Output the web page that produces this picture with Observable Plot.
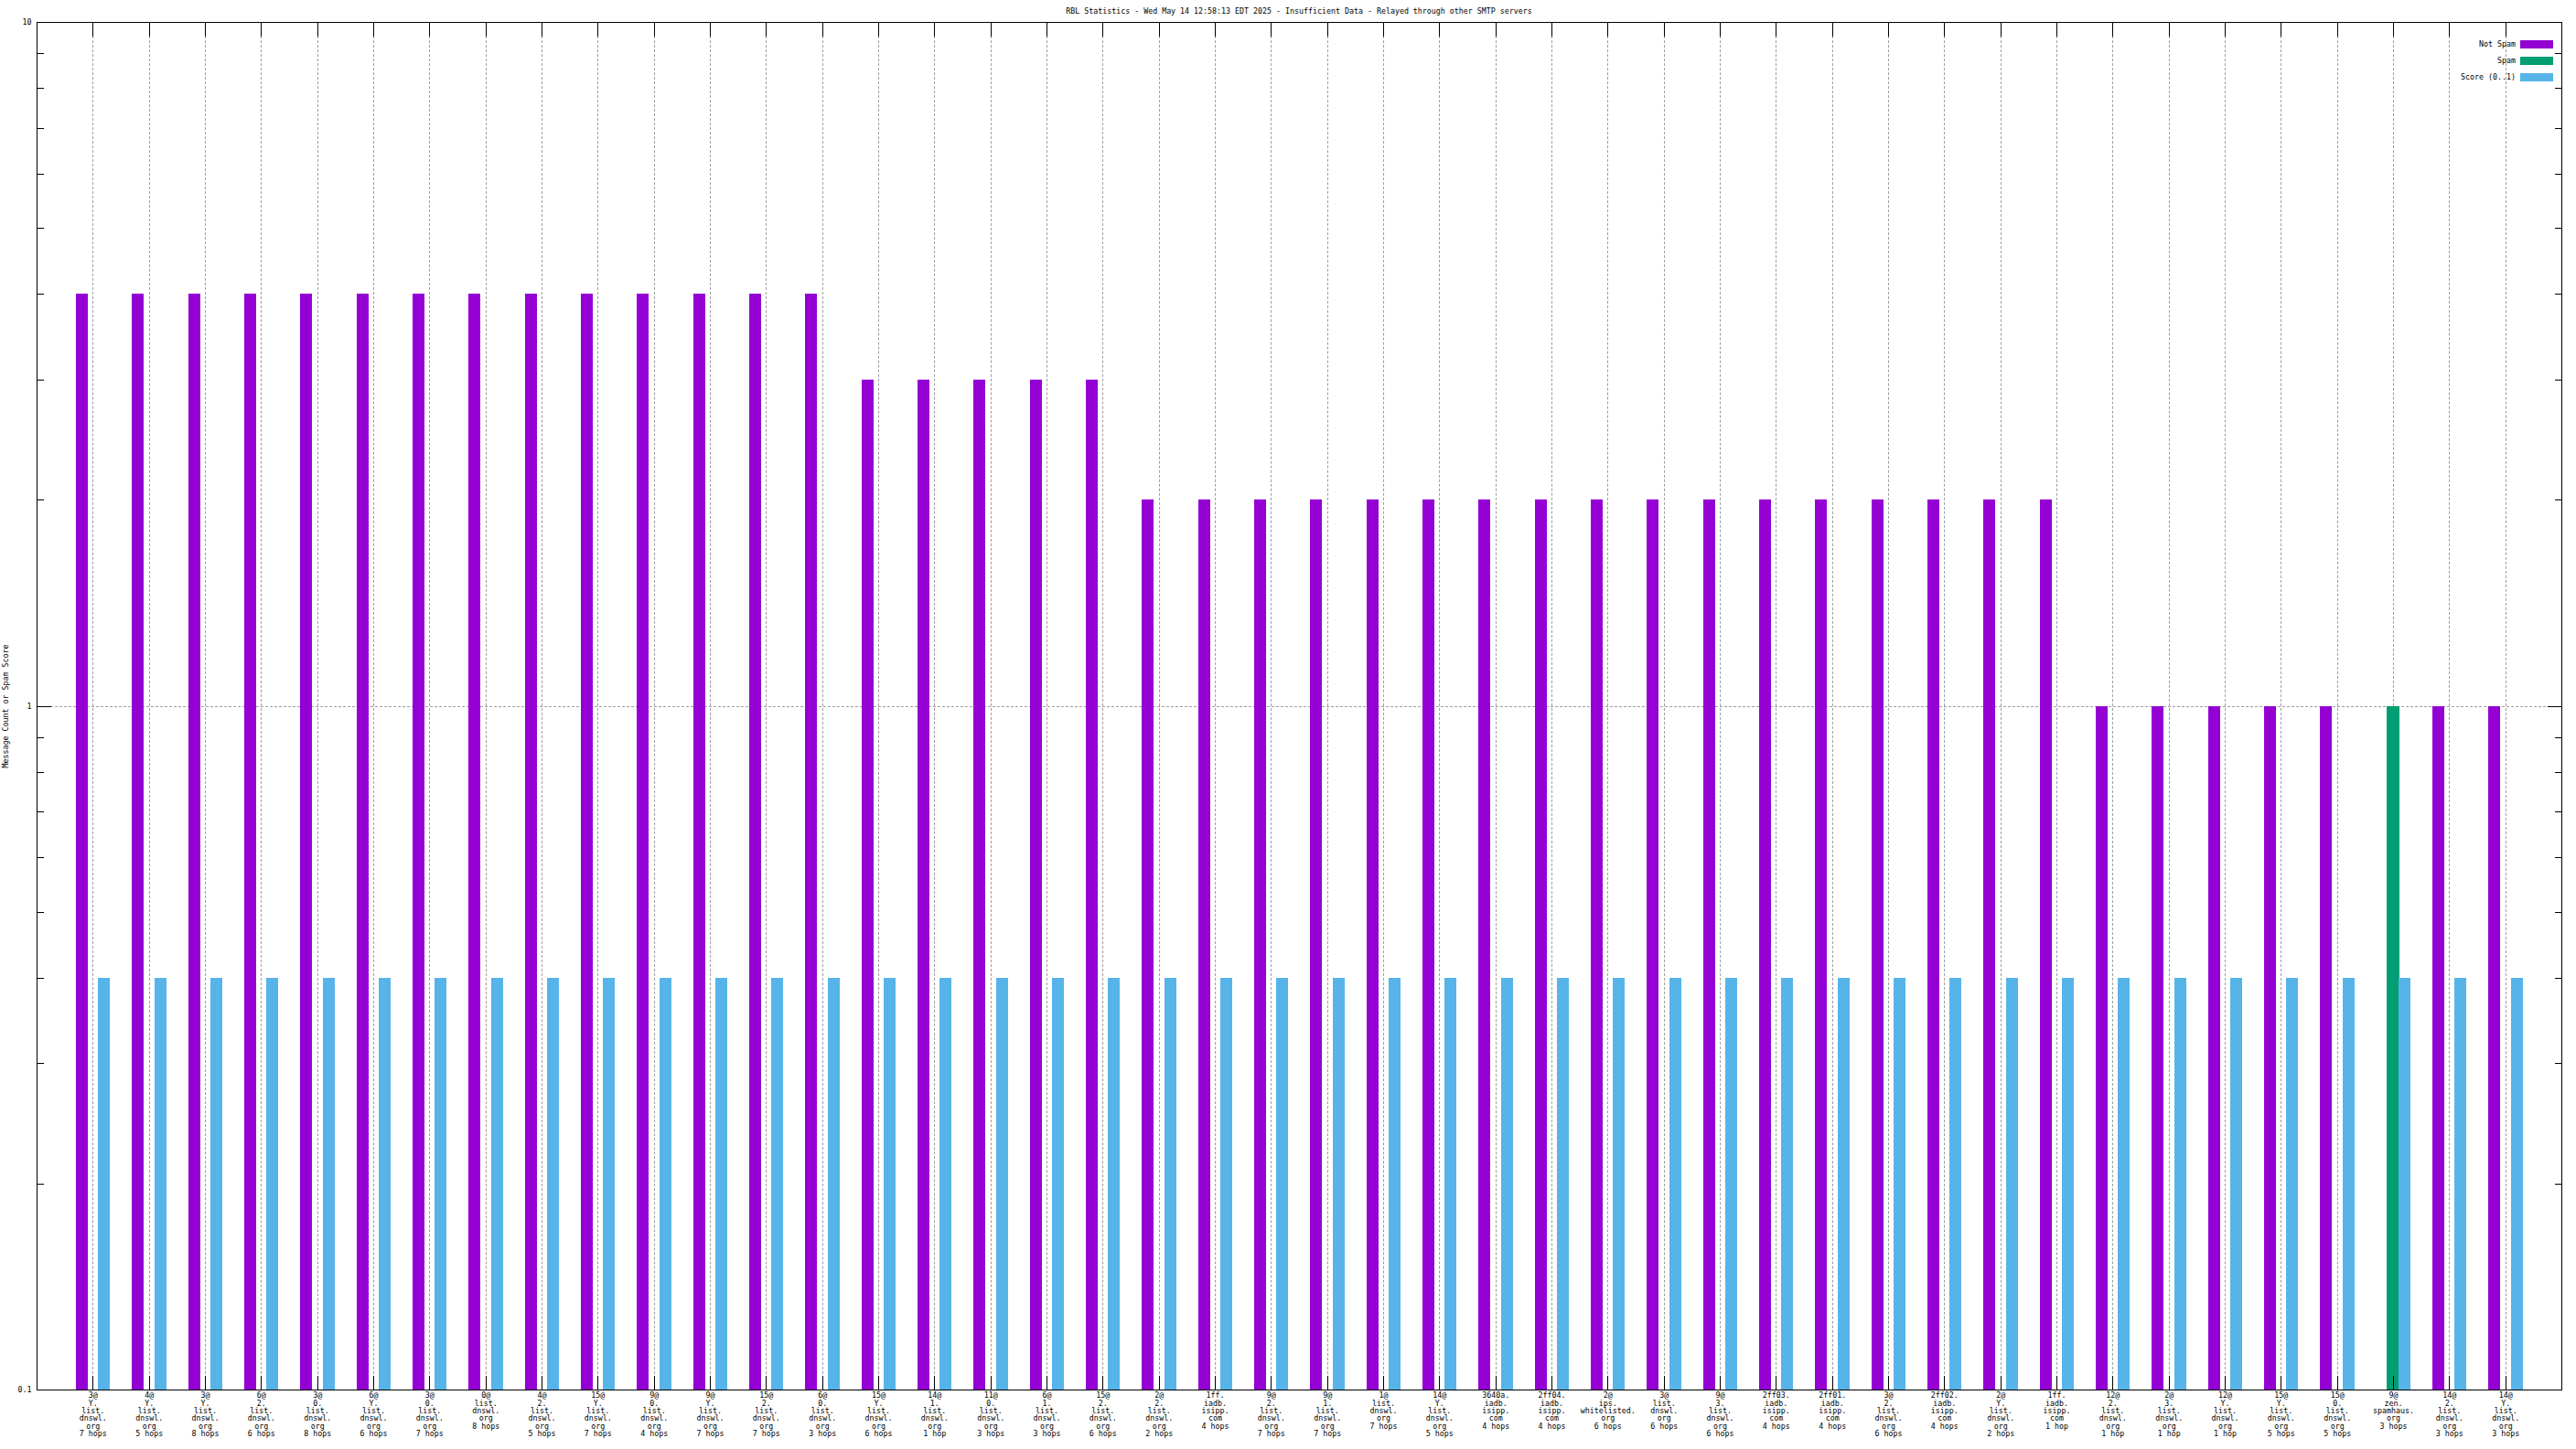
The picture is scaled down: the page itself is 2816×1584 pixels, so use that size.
<!DOCTYPE html>
<html><head><meta charset="utf-8">
<script src="https://cdn.jsdelivr.net/npm/d3@7"></script>
<script src="https://cdn.jsdelivr.net/npm/@observablehq/plot@0.6"></script>
<style>
html,body{margin:0;padding:0;background:#fff;overflow:hidden;}
#wrap{position:relative;width:2816px;height:1584px;font-family:"DejaVu Sans Mono",monospace;font-size:8.3px;color:#000;}
#title{position:absolute;left:40px;width:2760px;top:8px;text-align:center;line-height:9px;white-space:pre;}
.lg-text{position:absolute;right:66px;line-height:9px;white-space:pre;text-align:right;}
.lg-sw{position:absolute;left:2755px;width:36px;height:9px;}
svg{display:block;}
svg line, svg path, svg rect{shape-rendering:crispEdges;}
</style>
</head><body>
<div id="wrap"></div>
<script>
const titleText = "RBL Statistics - Wed May 14 12:58:13 EDT 2025 - Insufficient Data - Relayed through other SMTP servers";
const yTitle = "Message Count or Spam Score";
const seriesNames = ["Not Spam", "Spam", "Score (0..1)"];
const seriesColors = ["#9400d3", "#009e73", "#56b4e9"];
const categories = [
  "3@\nY.\nlist.\ndnswl.\norg\n7 hops",
  "4@\nY.\nlist.\ndnswl.\norg\n5 hops",
  "3@\nY.\nlist.\ndnswl.\norg\n8 hops",
  "6@\n2.\nlist.\ndnswl.\norg\n6 hops",
  "3@\n0.\nlist.\ndnswl.\norg\n8 hops",
  "6@\nY.\nlist.\ndnswl.\norg\n6 hops",
  "3@\n0.\nlist.\ndnswl.\norg\n7 hops",
  "0@\nlist.\ndnswl.\norg\n8 hops",
  "4@\n2.\nlist.\ndnswl.\norg\n5 hops",
  "15@\nY.\nlist.\ndnswl.\norg\n7 hops",
  "9@\n0.\nlist.\ndnswl.\norg\n4 hops",
  "9@\nY.\nlist.\ndnswl.\norg\n7 hops",
  "15@\n2.\nlist.\ndnswl.\norg\n7 hops",
  "6@\n0.\nlist.\ndnswl.\norg\n3 hops",
  "15@\nY.\nlist.\ndnswl.\norg\n6 hops",
  "14@\n1.\nlist.\ndnswl.\norg\n1 hop",
  "11@\n0.\nlist.\ndnswl.\norg\n3 hops",
  "6@\n1.\nlist.\ndnswl.\norg\n3 hops",
  "15@\n2.\nlist.\ndnswl.\norg\n6 hops",
  "2@\n2.\nlist.\ndnswl.\norg\n2 hops",
  "1ff.\niadb.\nisipp.\ncom\n4 hops",
  "9@\n2.\nlist.\ndnswl.\norg\n7 hops",
  "9@\n1.\nlist.\ndnswl.\norg\n7 hops",
  "1@\nlist.\ndnswl.\norg\n7 hops",
  "14@\nY.\nlist.\ndnswl.\norg\n5 hops",
  "3640a.\niadb.\nisipp.\ncom\n4 hops",
  "2ff04.\niadb.\nisipp.\ncom\n4 hops",
  "2@\nips.\nwhitelisted.\norg\n6 hops",
  "3@\nlist.\ndnswl.\norg\n6 hops",
  "9@\n3.\nlist.\ndnswl.\norg\n6 hops",
  "2ff03.\niadb.\nisipp.\ncom\n4 hops",
  "2ff01.\niadb.\nisipp.\ncom\n4 hops",
  "3@\n2.\nlist.\ndnswl.\norg\n6 hops",
  "2ff02.\niadb.\nisipp.\ncom\n4 hops",
  "2@\nY.\nlist.\ndnswl.\norg\n2 hops",
  "1ff.\niadb.\nisipp.\ncom\n1 hop",
  "12@\n2.\nlist.\ndnswl.\norg\n1 hop",
  "2@\n3.\nlist.\ndnswl.\norg\n1 hop",
  "12@\nY.\nlist.\ndnswl.\norg\n1 hop",
  "15@\nY.\nlist.\ndnswl.\norg\n5 hops",
  "15@\n0.\nlist.\ndnswl.\norg\n5 hops",
  "9@\nzen.\nspamhaus.\norg\n3 hops",
  "14@\n2.\nlist.\ndnswl.\norg\n3 hops",
  "14@\nY.\nlist.\ndnswl.\norg\n3 hops"
];
const notSpam = [4,4,4,4,4,4,4,4,4,4,4,4,4,4, 3,3,3,3,3, 2,2,2,2,2,2,2,2,2,2,2,2,2,2,2,2,2, 1,1,1,1,1,0,1,1];
const spam    = [0,0,0,0,0,0,0,0,0,0,0,0,0,0, 0,0,0,0,0, 0,0,0,0,0,0,0,0,0,0,0,0,0,0,0,0,0, 0,0,0,0,0,1,0,0];
const score   = [0.4,0.4,0.4,0.4,0.4,0.4,0.4,0.4,0.4,0.4,0.4,0.4,0.4,0.4,0.4,0.4,0.4,0.4,0.4,0.4,0.4,0.4,
                 0.4,0.4,0.4,0.4,0.4,0.4,0.4,0.4,0.4,0.4,0.4,0.4,0.4,0.4,0.4,0.4,0.4,0.4,0.4,0.4,0.4,0.4];
const yMajorTicks = [0.1, 1, 10];
const yMinorTicks = [0.2,0.3,0.4,0.5,0.6,0.7,0.8,0.9,2,3,4,5,6,7,8,9];

// series slot offsets (in category units) and box width, as gnuplot draws them
const slotOffset = [-0.195, 0, 0.205];
const boxWidth = 0.212;

const idx = categories.map((_, i) => i + 1);
const bars = [];
[notSpam, spam, score].forEach((arr, s) => {
  arr.forEach((v, i) => { if (v > 0) bars.push({i: i + 1, s, v}); });
});

const grid = {stroke: "#a0a0a0", strokeOpacity: 1, strokeDasharray: "3,2", strokeWidth: 1};

const chart = Plot.plot({
  width: 2816, height: 1584,
  marginTop: 24, marginBottom: 65, marginLeft: 40, marginRight: 16,
  style: {fontFamily: "'DejaVu Sans Mono', monospace", fontSize: "8.3px", background: "white", color: "black"},
  x: {type: "linear", domain: [0, categories.length + 1]},
  y: {type: "log", domain: [yMajorTicks[0], yMajorTicks[yMajorTicks.length - 1]]},
  marks: [
    Plot.gridX(idx, grid),
    Plot.gridY([1], grid),
    Plot.rect(bars, {
      x1: d => d.i + slotOffset[d.s] - boxWidth / 2,
      x2: d => d.i + slotOffset[d.s] + boxWidth / 2,
      y1: () => yMajorTicks[0],
      y2: d => d.v,
      fill: d => seriesColors[d.s]
    }),
    Plot.axisY(yMajorTicks, {anchor: "left", tickSize: -16, text: null, label: null, stroke: "black"}),
    Plot.axisY(yMinorTicks, {anchor: "left", tickSize: -8, text: null, label: null, stroke: "black"}),
    Plot.axisY(yMajorTicks, {anchor: "right", tickSize: -16, text: null, label: null, stroke: "black"}),
    Plot.axisY(yMinorTicks, {anchor: "right", tickSize: -8, text: null, label: null, stroke: "black"}),
    Plot.axisY(yMajorTicks, {anchor: "left", tickSize: 0, tickPadding: 6, tickFormat: d => String(d), label: null, fill: "black"}),
    Plot.axisX(idx, {anchor: "bottom", tickSize: -15, text: null, label: null, stroke: "black"}),
    Plot.axisX(idx, {anchor: "top", tickSize: -15, text: null, label: null, stroke: "black"}),
    Plot.axisX(idx, {anchor: "bottom", tickSize: 0, tickPadding: 3, lineHeight: 1, tickFormat: d => categories[d - 1], label: null, fill: "black"}),
    Plot.text([yTitle], {frameAnchor: "left", textAnchor: "middle", rotate: -90, dx: -34, text: d => d, fill: "black"}),
    Plot.frame({stroke: "black", strokeWidth: 1})
  ]
});

const wrap = document.getElementById("wrap");
wrap.appendChild(chart);

const t = document.createElement("div");
t.id = "title"; t.textContent = titleText;
wrap.appendChild(t);

const rowY = [48, 66, 84];
seriesNames.forEach((name, k) => {
  const lt = document.createElement("div");
  lt.className = "lg-text"; lt.textContent = name;
  lt.style.top = (rowY[k] - 4.5) + "px";
  wrap.appendChild(lt);
  const sw = document.createElement("div");
  sw.className = "lg-sw"; sw.style.background = seriesColors[k];
  sw.style.top = (rowY[k] - 4.5) + "px";
  wrap.appendChild(sw);
});
</script>
</body></html>
